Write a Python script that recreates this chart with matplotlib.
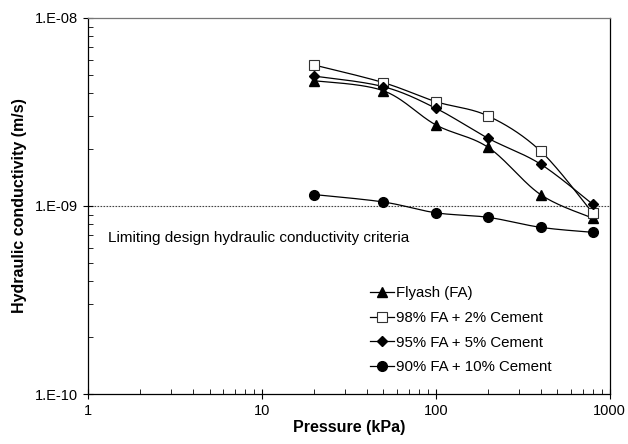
import numpy as np
import matplotlib
matplotlib.use("Agg")
import matplotlib.pyplot as plt
from matplotlib.ticker import LogLocator, NullFormatter, FixedLocator

plt.rcParams['font.family'] = ['Liberation Sans', 'DejaVu Sans']

# pressure steps (kPa)
pressure = [20, 50, 100, 200, 400, 800]

# hydraulic conductivity (m/s)
k_fa = [4.64e-9, 4.10e-9, 2.70e-9, 2.05e-9, 1.15e-9, 8.6e-10]
k_2c = [5.62e-9, 4.53e-9, 3.59e-9, 3.01e-9, 1.96e-9, 9.15e-10]
k_5c = [4.91e-9, 4.31e-9, 3.31e-9, 2.29e-9, 1.67e-9, 1.02e-9]
k_10c = [1.15e-9, 1.05e-9, 9.2e-10, 8.7e-10, 7.7e-10, 7.24e-10]

labels = ['Flyash (FA)', '98% FA + 2% Cement', '95% FA + 5% Cement', '90% FA + 10% Cement']
k_limit = 1e-9


def smooth(x, y, n=30):
    # catmull-rom through the points in log-log space (like excel smoothed lines)
    lx = np.log10(x)
    ly = np.log10(y)
    P = np.column_stack([lx, ly])
    P = np.vstack([P[0], P, P[-1]])
    out = []
    for i in range(1, len(P) - 2):
        p0, p1, p2, p3 = P[i - 1], P[i], P[i + 1], P[i + 2]
        c1 = p1 + (p2 - p0) / 6
        c2 = p2 - (p3 - p1) / 6
        t = np.linspace(0, 1, n)[:, None]
        seg = (1 - t) ** 3 * p1 + 3 * (1 - t) ** 2 * t * c1 + 3 * (1 - t) * t ** 2 * c2 + t ** 3 * p2
        out.append(seg)
    out = np.vstack(out)
    return 10 ** out[:, 0], 10 ** out[:, 1]


fig = plt.figure(figsize=(6.28, 4.44), dpi=100)
ax = fig.add_axes([0.140, 0.1126, 0.831, 0.8469])

styles = [
    dict(marker='^', mfc='black', mec='black', ms=7),
    dict(marker='s', mfc='white', mec='#333333', ms=7, mew=0.8),
    dict(marker='D', mfc='black', mec='black', ms=5),
    dict(marker='o', mfc='black', mec='black', ms=7),
]

for k, lab, st in zip([k_fa, k_2c, k_5c, k_10c], labels, styles):
    sx, sy = smooth(pressure, k)
    ax.plot(sx, sy, color='black', lw=0.9, zorder=2)
    ax.plot(pressure, k, ls='none', zorder=3, **st)
    ax.plot([], [], color='black', lw=0.9, label=lab, **st)

ax.axhline(k_limit, color='#444444', lw=0.8, ls=(0, (1.5, 1.2)), zorder=1)
ax.text(0.038, 0.414, 'Limiting design hydraulic conductivity criteria',
        transform=ax.transAxes, fontsize=11, va='center', ha='left')

ax.set_xscale('log')
ax.set_yscale('log')
ax.set_xlim(1, 1000)
ax.set_ylim(1e-10, 1e-8)

ax.xaxis.set_major_locator(FixedLocator([1, 10, 100, 1000]))
ax.set_xticklabels(['1', '10', '100', '1000'])
ax.xaxis.set_minor_locator(LogLocator(base=10, subs=np.arange(2, 10)))
ax.xaxis.set_minor_formatter(NullFormatter())
ax.yaxis.set_major_locator(FixedLocator([1e-10, 1e-9, 1e-8]))
ax.set_yticklabels(['1.E-10', '1.E-09', '1.E-08'])
ax.yaxis.set_minor_locator(LogLocator(base=10, subs=np.arange(2, 10)))
ax.yaxis.set_minor_formatter(NullFormatter())

ax.tick_params(which='major', direction='inout', length=7, width=0.8, labelsize=10.5)
ax.tick_params(which='minor', direction='in', length=3.5, width=0.6)
ax.tick_params(axis='x', pad=4)

for s in ax.spines.values():
    s.set_linewidth(0.9)
ax.spines['top'].set_color('#777777')

ax.set_xlabel('Pressure (kPa)', fontsize=11.5, fontweight='bold', labelpad=1)
ax.set_ylabel('Hydraulic conductivity (m/s)', fontsize=11.5, fontweight='bold', labelpad=6)

ax.legend(loc='upper left', bbox_to_anchor=(370 / 628, 1 - 286 / 444),
          bbox_transform=fig.transFigure, frameon=False, fontsize=10.8,
          handlelength=1.6, handletextpad=0.1, labelspacing=0.72,
          borderaxespad=0, borderpad=0)

fig.savefig('out.png', dpi=100)
